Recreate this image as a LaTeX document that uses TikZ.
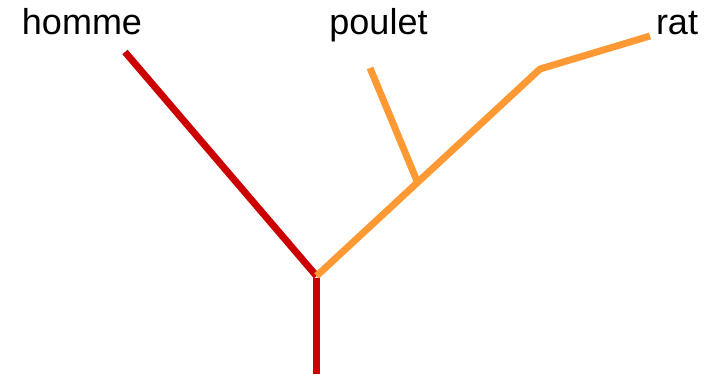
\documentclass[tikz,border=0pt]{standalone}
\usepackage{fontspec}
\setmainfont{Liberation Sans}
\definecolor{treered}{HTML}{CC0000}
\definecolor{treeorange}{HTML}{FF9933}
\begin{document}
\begin{tikzpicture}[x=0.75pt,y=-0.75pt,
  branch/.style={line width=5.2pt,line cap=butt},
  taxon/.style={anchor=base,inner sep=0pt,font=\fontsize{27}{32}\selectfont}]
\useasboundingbox (0,0) rectangle (712,374);
% leaf labels
\node[taxon] (lhomme) at (82,35) {homme};
\node[taxon] (lpoulet) at (378.5,35) {poulet};
\node[taxon] (lrat) at (677,35) {rat};
% tree vertices
\coordinate (root) at (316.5,374);
\coordinate (split) at (316.5,276);
\coordinate (homme) at (125,52);
\coordinate (inner) at (417,181);
\coordinate (bend) at (540,69);
\coordinate (poulet) at (370,68);
\coordinate (rat) at (650,36);
% branches
\draw[branch,treered] (split) -- (homme);
\draw[branch,treeorange] (split) -- (bend) -- (rat);
\draw[branch,treeorange] (inner) -- (poulet);
\draw[branch,treered] (root) -- ([yshift=-1.5]split);
\end{tikzpicture}
\end{document}
